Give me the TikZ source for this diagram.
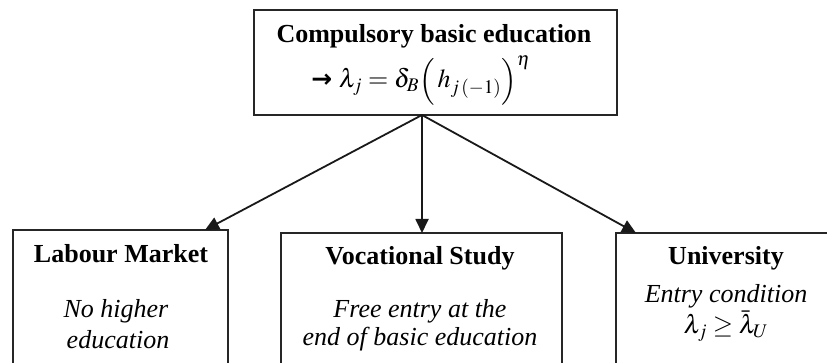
\documentclass[tikz,border=0pt]{standalone}
\usepackage{mathptmx}
\usepackage{fontspec}
\setmainfont{Liberation Serif}
\newfontfamily\arrowfont{DejaVu Sans}
\usetikzlibrary{arrows.meta}
\begin{document}
\begin{tikzpicture}[x=1pt,y=-1pt,
  boxstyle/.style={draw=black!85,line width=1.9pt,rectangle,inner sep=0pt},
  txt/.style={anchor=base,inner sep=0pt,font=\fontsize{26}{31}\selectfont},
  conn/.style={draw=black!90,line width=1.8pt,-{Triangle[length=14pt,width=13pt]}}]
\useasboundingbox (0,0) rectangle (827,363);
% boxes
\node[boxstyle,minimum width=363pt,minimum height=105pt] (top) at (435.5,62.5) {};
\node[boxstyle,minimum width=215pt,minimum height=170pt] (lab) at (120.5,315) {};
\node[boxstyle,minimum width=281pt,minimum height=170pt] (voc) at (421.5,318) {};
\node[boxstyle,minimum width=224pt,minimum height=170pt] (uni) at (728,318) {};
% texts
\node[txt] (t1) at (434,43) {\textbf{Compulsory basic education}};
\node[txt] (t2) at (421,88) {{\arrowfont\bfseries\fontsize{25}{30}\selectfont →}\ $\lambda_j = \delta_B \Bigl(\,h_{j\,(-1)}\Bigr)^{\eta}$};
\node[txt] (l1) at (121,263) {\textbf{Labour Market}};
\node[txt] (l2) at (116,317) {\textit{No higher}};
\node[txt] (l3) at (118,348) {\textit{education}};
\node[txt] (v1) at (420,265) {\textbf{Vocational Study}};
\node[txt] (v2) at (420,317) {\textit{Free entry at the}};
\node[txt] (v3) at (420,345) {\textit{end of basic education}};
\node[txt] (u1) at (726,265) {\textbf{University}};
\node[txt] (u2) at (726,302) {\textit{Entry condition}};
\node[txt] (u3) at (726,334) {$\lambda_j \geq \bar{\lambda}_U$};
% connectors
\coordinate (src) at (422,115);
\coordinate (e1) at (205,230);
\coordinate (e2) at (422,233);
\coordinate (e3) at (636,233);
\draw[conn] (src) -- (e1);
\draw[conn] (src) -- (e2);
\draw[conn] (src) -- (e3);
\end{tikzpicture}
\end{document}
